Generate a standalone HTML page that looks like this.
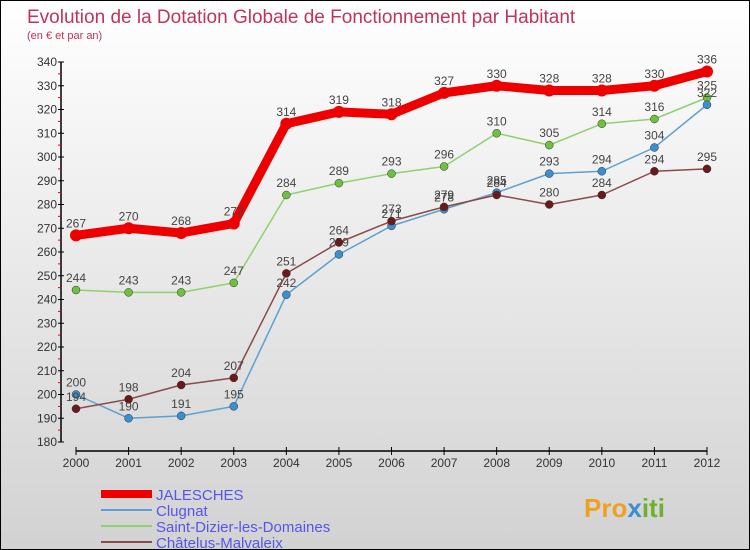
<!DOCTYPE html>
<html><head><meta charset="utf-8"><style>
body{margin:0}
#wrap{position:relative;width:748px;height:548px;border:1px solid #000;background:linear-gradient(#ffffff,#d2d2d2);overflow:hidden;font-family:"Liberation Sans",sans-serif}
</style></head><body>
<div id="wrap">
<svg id="svg" width="748" height="548" xmlns="http://www.w3.org/2000/svg" style="position:absolute;left:0;top:0">
<text x="26" y="22" font-size="19" fill="#c0345a">Evolution de la Dotation Globale de Fonctionnement par Habitant</text>
<text x="26" y="38" font-size="11" fill="#c0345a">(en € et par an)</text>
<g id="axes"></g><g id="series"></g><g id="legend"></g>
<text x="583" y="516" font-size="26" font-weight="bold" fill="#f0a020">Pro<tspan fill="#3a8fd0">x</tspan><tspan fill="#70b030">iti</tspan></text>
</svg>
</div>
<script>
const years=[2000,2001,2002,2003,2004,2005,2006,2007,2008,2009,2010,2011,2012];
const yTicks=[180,190,200,210,220,230,240,250,260,270,280,290,300,310,320,330,340];
const seriesNames=["JALESCHES","Clugnat","Saint-Dizier-les-Domaines","Châtelus-Malvaleix"];
const jalesches=[267,270,268,272,314,319,318,327,330,328,328,330,336];
const clugnat=[200,190,191,195,242,259,271,278,285,293,294,304,322];
const saintDizier=[244,243,243,247,284,289,293,296,310,305,314,316,325];
const chatelus=[194,198,204,207,251,264,273,279,284,280,284,294,295];
const NS="http://www.w3.org/2000/svg";
const X=i=>75+i*(706-75)/(years.length-1);
const Y=v=>441-(v-180)*380/160;
function mk(tag,attrs,parent){const e=document.createElementNS(NS,tag);for(const k in attrs)e.setAttribute(k,attrs[k]);parent.appendChild(e);return e;}
const ax=document.getElementById('axes');
let yl=mk('line',{x1:60,y1:61,x2:60,y2:441,stroke:'#000','stroke-width':1.5},ax);


yTicks.forEach((v,k)=>{
 const t=mk('line',{x1:57,x2:63,y1:Y(v),y2:Y(v),stroke:'#000'},ax);
 
 
 if(k<yTicks.length-1){
 const r=mk('line',{x1:57,x2:60,y1:Y(v+5),y2:Y(v+5),stroke:'#e00'},ax);
 
 
 }
 const l=mk('text',{x:56,y:Y(v)+4,'font-size':12,fill:'#333','text-anchor':'end'},ax);l.textContent=v;
 
 
});
let xl=mk('line',{x1:75,y1:450,x2:706,y2:450,stroke:'#000','stroke-width':1.5},ax);


years.forEach((yr,i)=>{
 const t=mk('line',{x1:X(i),x2:X(i),y1:446,y2:454,stroke:'#000'},ax);
 
 
 const l=mk('text',{x:X(i),y:466,'font-size':12,fill:'#333','text-anchor':'middle'},ax);l.textContent=yr;
 
 
});
const sg=document.getElementById('series');
const defs=[[saintDizier,'#90d070','#70c040',1.5,4],[clugnat,'#5fa0d0','#3a8fd0',1.5,4],[chatelus,'#8a4a4a','#6a1a1a',1.5,4],[jalesches,'#ee0000','#ee0000',9,6]];
const keys=['saint-dizier','clugnat','chatelus','jalesches'];
defs.forEach((d,si)=>{
 const [vals,lc,pc,w,r]=d;
 const p=mk('polyline',{points:vals.map((v,i)=>X(i)+','+Y(v)).join(' '),fill:'none',stroke:lc,'stroke-width':w,'stroke-linejoin':'round'},sg);
 
 
 vals.forEach((v,i)=>{
  const c=mk('circle',{cx:X(i),cy:Y(v),r:r,fill:pc,stroke:si==3?'none':'#333','stroke-width':0.5},sg);
  
  
  const t=mk('text',{x:X(i),y:Y(v)-8,'font-size':12,fill:'#444','text-anchor':'middle'},sg);t.textContent=v;
  
  
 });
});
const lg=document.getElementById('legend');
const lcol=['#ee0000','#5fa0d0','#90d070','#8a4a4a'],lw=[8,2,2,2];
seriesNames.forEach((n,i)=>{
 const y=493+i*16;
 const s=mk('line',{x1:100,x2:151,y1:y,y2:y,stroke:lcol[i],'stroke-width':lw[i]},lg);
 
 
 const t=mk('text',{x:155,y:y+6,'font-size':15,fill:'#5555ee'},lg);t.textContent=n;
 
 
});
</script>
</body></html>
